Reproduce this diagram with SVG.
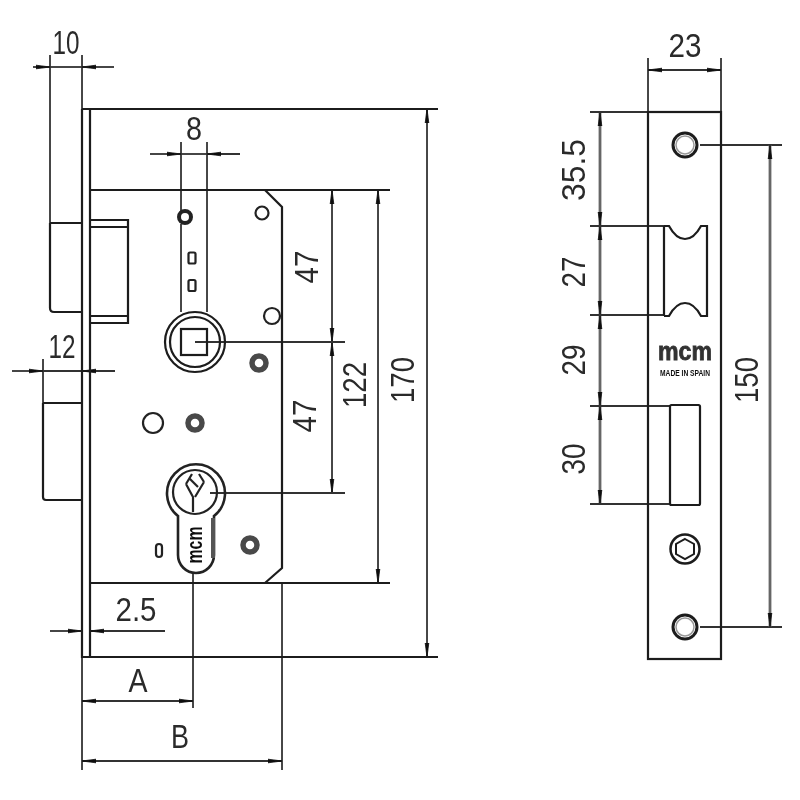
<svg xmlns="http://www.w3.org/2000/svg" width="800" height="800" viewBox="0 0 800 800">
<style>
text{font-family:"Liberation Sans",Arial,sans-serif;font-size:33px;fill:#2a2a2a;text-anchor:middle}
.o,.o *{fill:none;stroke:#1c1c1c;stroke-width:2.2}
.d line{stroke:#333;stroke-width:1.8;fill:none}
.d line.g{stroke:#666;stroke-width:2.8}
.t{fill:none;stroke:#222;stroke-width:4}
.s{fill:none;stroke:#4a4a4a;stroke-width:5.500}
.w{fill:none;stroke:#222;stroke-width:2.2}
</style>
<defs>
<marker id="a" viewBox="0 0 14 6" refX="14" refY="3" markerWidth="14" markerHeight="6" markerUnits="userSpaceOnUse" orient="auto-start-reverse"><path d="M0 1.2L14 3L0 4.8Z" fill="#111" stroke="#111" stroke-width=".8"/></marker>
<filter id="b" x="0" y="0" width="100%" height="100%"><feGaussianBlur stdDeviation="0.45"/></filter>
</defs>
<rect width="800" height="800" fill="#fff"/>
<g filter="url(#b)">
<g id="connectors" class="d">
<line x1="50" y1="55" x2="50" y2="223"/><line x1="82" y1="55" x2="82" y2="109"/>
<line x1="33" y1="67" x2="50" y2="67" marker-end="url(#a)"/><line x1="114" y1="67" x2="82" y2="67" marker-end="url(#a)"/>
<line x1="50" y1="67" x2="82" y2="67"/>
<line x1="181" y1="142" x2="181" y2="211"/><line x1="181" y1="224" x2="181" y2="312"/><line x1="207" y1="142" x2="207" y2="312"/>
<line x1="150" y1="154" x2="181" y2="154" marker-end="url(#a)"/><line x1="240" y1="154" x2="207" y2="154" marker-end="url(#a)"/>
<line x1="181" y1="154" x2="207" y2="154"/>
<line x1="43" y1="359" x2="43" y2="403"/>
<line x1="12" y1="371" x2="43" y2="371" marker-end="url(#a)"/><line x1="115" y1="371" x2="82" y2="371" marker-end="url(#a)"/>
<line x1="43" y1="371" x2="82" y2="371"/>
<line x1="50" y1="631" x2="82" y2="631" marker-end="url(#a)"/><line x1="165" y1="631" x2="90" y2="631" marker-end="url(#a)"/>
<line x1="82" y1="657" x2="82" y2="770"/><line x1="193" y1="572" x2="193" y2="708"/><line x1="282" y1="583" x2="282" y2="770"/>
<line x1="82" y1="701" x2="193" y2="701" marker-start="url(#a)" marker-end="url(#a)"/>
<line x1="82" y1="761" x2="282" y2="761" marker-start="url(#a)" marker-end="url(#a)"/>
<line x1="332" y1="190" x2="332" y2="342" marker-start="url(#a)" marker-end="url(#a)"/>
<line x1="332" y1="342" x2="332" y2="493" marker-start="url(#a)" marker-end="url(#a)"/>
<line x1="378" y1="190" x2="378" y2="583" marker-start="url(#a)" marker-end="url(#a)"/>
<line x1="427" y1="109" x2="427" y2="657" marker-start="url(#a)" marker-end="url(#a)"/>
<line x1="195" y1="342" x2="345" y2="342"/><line x1="210" y1="493" x2="345" y2="493"/>
<line x1="648" y1="58" x2="648" y2="112"/><line x1="721" y1="58" x2="721" y2="112"/>
<line x1="648" y1="70" x2="721" y2="70" marker-start="url(#a)" marker-end="url(#a)"/>
<line class="g" x1="600" y1="112" x2="600" y2="226" marker-start="url(#a)" marker-end="url(#a)"/>
<line class="g" x1="600" y1="226" x2="600" y2="315" marker-start="url(#a)" marker-end="url(#a)"/>
<line class="g" x1="600" y1="315" x2="600" y2="406" marker-start="url(#a)" marker-end="url(#a)"/>
<line class="g" x1="600" y1="406" x2="600" y2="504" marker-start="url(#a)" marker-end="url(#a)"/>
<line x1="590" y1="112" x2="648" y2="112"/>
<line x1="590" y1="226" x2="665" y2="226"/><line x1="590" y1="315" x2="665" y2="315"/>
<line x1="590" y1="406" x2="670" y2="406"/><line x1="590" y1="504" x2="670" y2="504"/>
<line x1="700" y1="145" x2="782" y2="145"/><line x1="700" y1="627" x2="782" y2="627"/>
<line class="g" x1="770" y1="145" x2="770" y2="627" marker-start="url(#a)" marker-end="url(#a)"/>
</g>
<g id="lock-body" class="o">
<path d="M82 109H438M82 109V657H438M90 109V657"/>
<path d="M90 190H265L282 207V568L265 583H90M265 190H390M265 583H390"/>
</g>
<g id="latch" class="o"><path d="M50 223H82M50 223V308Q50 312 54 312H82"/><path d="M90 220H128V323H90M90 227H128M90 316H128"/></g>
<g id="deadbolt" class="o"><path d="M43 403H82M43 403V497Q43 500 46 500H82"/></g>
<g id="top-hole"><circle cx="185" cy="217" r="6" class="t"/></g>
<g id="small-hole-1"><circle cx="262" cy="213" r="6.500" class="w"/></g>
<g id="slot-1"><rect x="188.500" y="252.500" width="7" height="11" rx="1.500" class="w"/></g>
<g id="slot-2"><rect x="188.500" y="280" width="7" height="11" rx="1.500" class="w"/></g>
<g id="spindle" class="o"><circle cx="195" cy="342" r="30"/><circle cx="195" cy="342" r="25"/><rect x="181" y="329" width="26" height="26"/></g>
<g id="small-hole-2"><circle cx="272" cy="316" r="8" class="w"/></g>
<g id="screw-1"><circle cx="259" cy="363" r="7" class="s"/></g>
<g id="screw-2"><circle cx="195" cy="423" r="7" class="s"/></g>
<g id="hole-3"><circle cx="153" cy="423" r="10" class="w"/></g>
<g id="screw-3"><circle cx="250" cy="545" r="7" class="s"/></g>
<g id="slot-3"><rect x="156" y="544" width="6" height="13" rx="3" class="w"/></g>
<g id="cylinder">
<path class="w" style="stroke-width:2.600" d="M178 516A29 29 0 1 1 214 516V555A18 18 0 0 1 178 555Z"/>
<circle cx="195" cy="492" r="22" class="w"/>
<path class="w" d="M186 484L193 497V512M204 482L195 497M186 484L192 474M204 482L199 474M190 479L198 487"/>
<line x1="213" y1="518" x2="213" y2="558" stroke="#555" stroke-width="4"/>
<text transform="translate(202 545) rotate(-90)" style="font-size:22px;font-weight:bold;fill:#111" textLength="37" lengthAdjust="spacingAndGlyphs">mcm</text>
</g>
<g id="strike-plate" class="o">
<rect x="648" y="112" width="73" height="547"/>
<path d="M664 226V316M664 226H669Q676 239 685 239Q694 239 701 226H707V316H701Q694 303 685 303Q676 303 669 316H664"/>
<rect x="670" y="405" width="30" height="100" rx="1.500"/>
<circle cx="685" cy="145" r="12" style="stroke-width:3"/>
<circle cx="685" cy="145" r="9" style="stroke:#999;stroke-width:1.500"/>
<circle cx="685" cy="627" r="12" style="stroke-width:3"/>
<circle cx="685" cy="627" r="9" style="stroke:#999;stroke-width:1.500"/>
<circle cx="685" cy="549" r="14.500" style="stroke-width:2.500"/>
<path d="M685 539L694 544V554L685 559L676 554V544Z" style="stroke-width:2"/>
</g>
<g id="logo">
<text x="685" y="360" style="font-size:25px;font-weight:bold;fill:#333;stroke:#333;stroke-width:.8" textLength="54" lengthAdjust="spacingAndGlyphs">mcm</text>
<text x="685" y="376" style="font-size:9px;font-weight:bold;fill:#111" textLength="50" lengthAdjust="spacingAndGlyphs">MADE IN SPAIN</text>
</g>
<g id="labels">
<text x="66" y="54" textLength="27" lengthAdjust="spacingAndGlyphs">10</text>
<text x="194" y="140" textLength="16" lengthAdjust="spacingAndGlyphs">8</text>
<text x="62" y="358" textLength="27" lengthAdjust="spacingAndGlyphs">12</text>
<text x="136" y="621" textLength="41" lengthAdjust="spacingAndGlyphs">2.5</text>
<text x="138" y="692" textLength="19" lengthAdjust="spacingAndGlyphs">A</text>
<text x="180" y="748" textLength="18" lengthAdjust="spacingAndGlyphs">B</text>
<text x="685" y="57" textLength="33" lengthAdjust="spacingAndGlyphs">23</text>
<text transform="translate(318 267) rotate(-90)" textLength="33" lengthAdjust="spacingAndGlyphs">47</text>
<text transform="translate(316 416) rotate(-90)" textLength="33" lengthAdjust="spacingAndGlyphs">47</text>
<text transform="translate(366 385) rotate(-90)" textLength="46" lengthAdjust="spacingAndGlyphs">122</text>
<text transform="translate(414 380) rotate(-90)" textLength="46" lengthAdjust="spacingAndGlyphs">170</text>
<text transform="translate(585 170) rotate(-90)" textLength="62" lengthAdjust="spacingAndGlyphs">35.5</text>
<text transform="translate(585 272) rotate(-90)" textLength="31" lengthAdjust="spacingAndGlyphs">27</text>
<text transform="translate(585 360) rotate(-90)" textLength="31" lengthAdjust="spacingAndGlyphs">29</text>
<text transform="translate(585 459) rotate(-90)" textLength="31" lengthAdjust="spacingAndGlyphs">30</text>
<text transform="translate(758 380) rotate(-90)" textLength="46" lengthAdjust="spacingAndGlyphs">150</text>
</g>
</g>
</svg>
